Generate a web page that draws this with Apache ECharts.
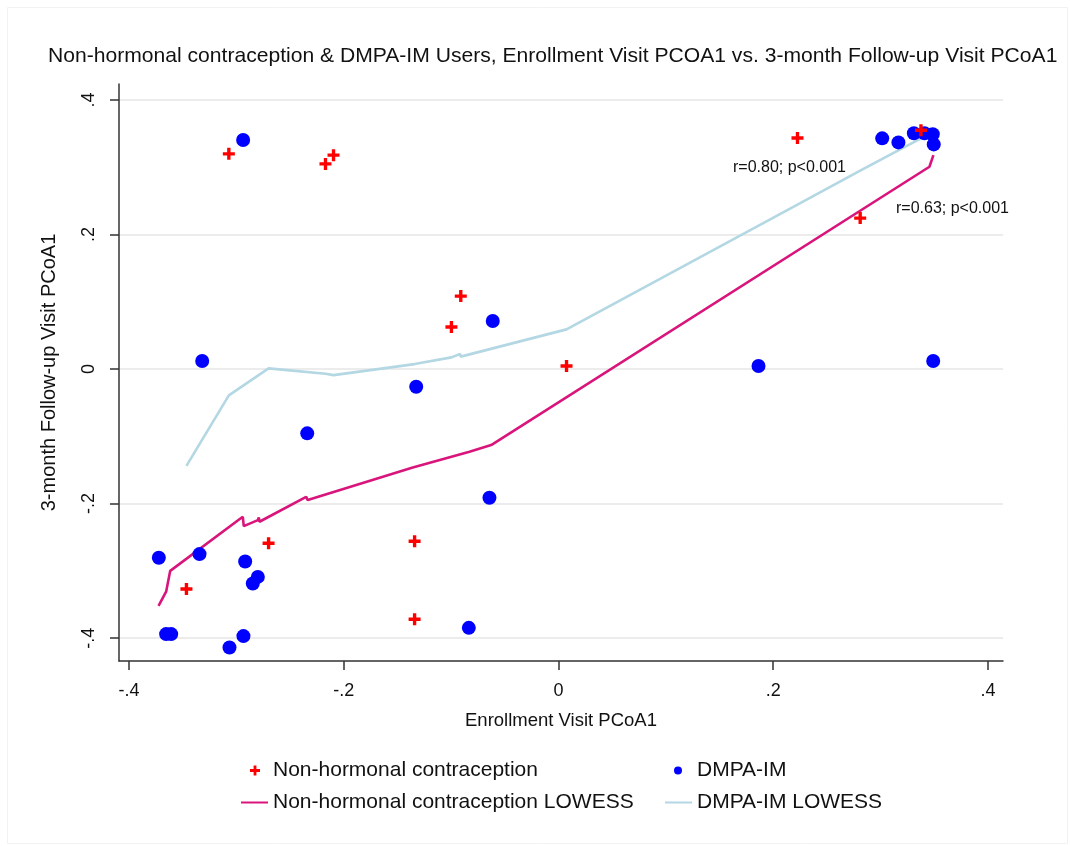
<!DOCTYPE html>
<html>
<head>
<meta charset="utf-8">
<script src="https://cdn.jsdelivr.net/npm/echarts@6/dist/echarts.min.js"></script>
<style>
html,body{margin:0;padding:0;background:#fff;}
#chart{width:1070px;height:846px;}
</style>
</head>
<body>
<div id="chart"></div>
<script>
// ---- data ----
const titleText = 'Non-hormonal contraception & DMPA-IM Users, Enrollment Visit PCOA1 vs. 3-month Follow-up Visit PCoA1';
const xTicks = [-0.4, -0.2, 0, 0.2, 0.4];
const yTicks = [-0.4, -0.2, 0, 0.2, 0.4];

const nonHormonalX = [-0.307, -0.217, -0.2095, -0.091, -0.0997, 0.0075, 0.2226, 0.281, 0.3376, -0.270, -0.3465, -0.134, -0.134];
const nonHormonalY = [0.320, 0.305, 0.318, 0.1085, 0.0625, 0.0045, 0.3435, 0.2245, 0.355, -0.259, -0.327, -0.256, -0.372];

const dmpaX = [-0.2937, -0.3318, -0.234, -0.1325, -0.0612, -0.0643, -0.0835, 0.1863, 0.349, 0.3015, 0.3166, 0.331, 0.3409, 0.3486, 0.3495, -0.3722, -0.3343, -0.2918, -0.28, -0.2847, -0.3654, -0.3607, -0.2934, -0.3064];
const dmpaY = [0.3405, 0.0119, -0.0956, -0.0263, 0.0714, -0.1914, -0.3847, 0.0045, 0.0119, 0.343, 0.337, 0.3505, 0.3505, 0.349, 0.334, -0.2806, -0.2751, -0.286, -0.309, -0.3187, -0.394, -0.394, -0.397, -0.414];

const nhLowessX = [-0.3725, -0.3654, -0.3616, -0.294, -0.2931, -0.280, -0.2791, -0.2785, -0.235, -0.2335, -0.1357, -0.0829, -0.0627, -0.0612, 0.3455, 0.3492];
const nhLowessY = [-0.352, -0.331, -0.300, -0.2196, -0.2335, -0.2245, -0.2205, -0.227, -0.1899, -0.1948, -0.1462, -0.123, -0.113, -0.1155, 0.3008, 0.318];

const dmpaLowessX = [-0.3465, -0.307, -0.270, -0.217, -0.2095, -0.134, -0.1335, -0.0997, -0.0915, -0.091, 0.0075, 0.2226, 0.281, 0.3376];
const dmpaLowessY = [-0.144, -0.039, 0.001, -0.007, -0.009, 0.0074, 0.009, 0.0174, 0.0225, 0.0185, 0.059, 0.2446, 0.2949, 0.343];

const annotations = ['r=0.80; p<0.001', 'r=0.63; p<0.001'];
const seriesNames = ['Non-hormonal contraception', 'DMPA-IM', 'Non-hormonal contraception LOWESS', 'DMPA-IM LOWESS'];

// ---- build ----
const zip = (xs, ys) => xs.map((x, i) => [x, ys[i]]);
const FONT = 'Liberation Sans';
const plusPath = 'path://M3.6,0H6.4V3.6H10V6.4H6.4V10H3.6V6.4H0V3.6H3.6Z';
const fmt = v => {
  if (Math.abs(v) < 1e-9) return '0';
  const s = String(Math.abs(Math.round(v * 10) / 10)).replace(/^0/, '');
  return (v < 0 ? '-' : '') + s;
};

const chart = echarts.init(document.getElementById('chart'), null, {renderer: 'canvas'});
const legendBase = {
  orient: 'horizontal', padding: 0, itemGap: 0,
  textStyle: {fontFamily: FONT, fontSize: 21, color: '#111'}
};
chart.setOption({
  backgroundColor: '#fff',
  animation: false,
  title: {
    text: titleText, left: 43, top: 41,
    textStyle: {fontFamily: FONT, fontSize: 21.1, fontWeight: 'normal', color: '#111'}
  },
  grid: {left: 119, right: 67, top: 84, bottom: 185},
  xAxis: {
    type: 'value', min: -0.4093, max: 0.414,
    name: 'Enrollment Visit PCoA1', nameLocation: 'middle', nameGap: 50,
    nameTextStyle: {fontFamily: FONT, fontSize: 18.5, color: '#111'},
    axisLine: {onZero: false, lineStyle: {color: '#333', width: 1.5}},
    axisTick: {show: true, length: 9, customValues: xTicks, lineStyle: {color: '#333', width: 1.5}},
    axisLabel: {customValues: xTicks, formatter: fmt, fontFamily: FONT, fontSize: 18, color: '#111', margin: 21},
    splitLine: {show: false}
  },
  yAxis: {
    type: 'value', min: -0.434, max: 0.4238,
    name: '3-month Follow-up Visit PCoA1', nameLocation: 'middle', nameGap: 60, nameRotate: 90,
    nameTextStyle: {fontFamily: FONT, fontSize: 20, color: '#111'},
    axisLine: {show: true, onZero: false, lineStyle: {color: '#333', width: 1.5}},
    axisTick: {show: true, length: 9, customValues: yTicks, lineStyle: {color: '#333', width: 1.5}},
    axisLabel: {customValues: yTicks, formatter: fmt, rotate: 90, fontFamily: FONT, fontSize: 18, color: '#111', margin: 21},
    splitLine: {show: true, lineStyle: {color: '#ececec', width: 2}}
  },
  legend: [
    Object.assign({}, legendBase, {left: 250, top: 760, itemWidth: 26, itemHeight: 10,
      data: [{name: seriesNames[0], icon: plusPath}]}),
    Object.assign({}, legendBase, {left: 674, top: 760, itemWidth: 28, itemHeight: 8,
      data: [{name: seriesNames[1], icon: 'circle'}]}),
    Object.assign({}, legendBase, {left: 241, top: 792, itemWidth: 27, itemHeight: 2,
      data: [{name: seriesNames[2], icon: 'rect'}]}),
    Object.assign({}, legendBase, {left: 665, top: 792, itemWidth: 27, itemHeight: 2,
      data: [{name: seriesNames[3], icon: 'rect'}]})
  ],
  graphic: [
    {type: 'rect', left: 5, top: 5, shape: {width: 1060, height: 836}, style: {fill: 'none', stroke: '#f2f2f2', lineWidth: 1}, silent: true, z: -10},
    {type: 'text', left: 733, top: 160, style: {text: annotations[0], fontFamily: FONT, fontSize: 16, fill: '#111'}},
    {type: 'text', left: 896, top: 201, style: {text: annotations[1], fontFamily: FONT, fontSize: 16, fill: '#111'}}
  ],
  series: [
    {
      name: seriesNames[2], type: 'line', data: zip(nhLowessX, nhLowessY),
      showSymbol: false, symbol: 'none', color: '#d9157c',
      lineStyle: {color: '#d9157c', width: 2.6}, z: 2
    },
    {
      name: seriesNames[3], type: 'line', data: zip(dmpaLowessX, dmpaLowessY),
      showSymbol: false, symbol: 'none', color: '#b3d7e3',
      lineStyle: {color: '#b3d7e3', width: 2.6}, z: 2
    },
    {
      name: seriesNames[0], type: 'scatter', data: zip(nonHormonalX, nonHormonalY),
      symbol: plusPath, symbolSize: 12, color: '#ff0000', itemStyle: {color: '#ff0000', opacity: 1}, z: 4
    },
    {
      name: seriesNames[1], type: 'scatter', data: zip(dmpaX, dmpaY),
      symbol: 'circle', symbolSize: 14, color: '#0000ff', itemStyle: {color: '#0000ff', opacity: 1}, z: 3
    }
  ]
});
</script>
</body>
</html>
